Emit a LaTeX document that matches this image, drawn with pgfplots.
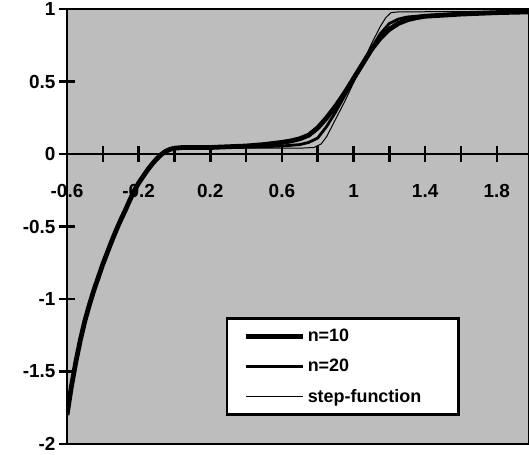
\documentclass[border=0pt]{standalone}
\usepackage{fontspec}
\setmainfont{Liberation Sans}
\usepackage{pgfplots}
\pgfplotsset{compat=1.18}

\pgfplotstableread{
x y
-0.6 -1.80
-0.575 -1.60
-0.55 -1.43
-0.525 -1.28
-0.5 -1.15
-0.475 -1.04
-0.45 -0.94
-0.425 -0.85
-0.4 -0.76
-0.375 -0.68
-0.35 -0.60
-0.325 -0.525
-0.3 -0.455
-0.275 -0.39
-0.25 -0.32
-0.225 -0.255
-0.2 -0.20
-0.175 -0.155
-0.15 -0.11
-0.125 -0.07
-0.1 -0.035
-0.075 -0.005
-0.05 0.018
-0.025 0.032
0 0.04
0.05 0.045
0.1 0.045
0.2 0.045
0.3 0.05
0.4 0.055
0.5 0.065
0.6 0.08
0.65 0.09
0.7 0.105
0.75 0.13
0.8 0.18
0.85 0.25
0.9 0.33
0.95 0.42
1.0 0.52
1.05 0.62
1.1 0.72
1.15 0.80
1.2 0.86
1.25 0.90
1.3 0.925
1.35 0.94
1.4 0.95
1.6 0.965
1.8 0.975
1.98 0.98
}\nten

\pgfplotstableread{
x y
-0.6 -1.80
-0.575 -1.60
-0.55 -1.43
-0.525 -1.28
-0.5 -1.15
-0.475 -1.04
-0.45 -0.94
-0.425 -0.85
-0.4 -0.76
-0.375 -0.68
-0.35 -0.60
-0.325 -0.525
-0.3 -0.455
-0.275 -0.39
-0.25 -0.32
-0.225 -0.255
-0.2 -0.20
-0.175 -0.155
-0.15 -0.11
-0.125 -0.07
-0.1 -0.035
-0.075 -0.005
-0.05 0.018
-0.025 0.032
0 0.04
0.05 0.045
0.1 0.045
0.3 0.045
0.5 0.05
0.6 0.055
0.7 0.065
0.75 0.08
0.8 0.11
0.85 0.19
0.9 0.29
0.95 0.40
1.0 0.51
1.05 0.62
1.1 0.73
1.15 0.83
1.2 0.90
1.25 0.93
1.3 0.945
1.4 0.955
1.6 0.965
1.98 0.98
}\ntwenty

\pgfplotstableread{
x y
-0.6 -1.80
-0.575 -1.60
-0.55 -1.43
-0.525 -1.28
-0.5 -1.15
-0.475 -1.04
-0.45 -0.94
-0.425 -0.85
-0.4 -0.76
-0.375 -0.68
-0.35 -0.60
-0.325 -0.525
-0.3 -0.455
-0.275 -0.39
-0.25 -0.32
-0.225 -0.255
-0.2 -0.20
-0.175 -0.155
-0.15 -0.11
-0.125 -0.07
-0.1 -0.035
-0.075 -0.005
-0.05 0.018
-0.025 0.032
0 0.04
0.1 0.04
0.5 0.04
0.7 0.04
0.78 0.045
0.82 0.07
0.85 0.12
0.9 0.24
0.95 0.36
1.0 0.49
1.05 0.62
1.1 0.76
1.15 0.88
1.18 0.94
1.21 0.975
1.25 0.98
1.98 0.985
}\nstep

\begin{document}
\begin{tikzpicture}
\begin{axis}[
    scale only axis,
    width=462bp, height=435bp,
    xmin=-0.6, xmax=1.98, ymin=-2, ymax=1,
    axis x line=middle, axis y line=left,
    axis line style={-, line width=2.8bp},
    hide obscured x ticks=false, hide obscured y ticks=false,
    xtick={-0.6,-0.2,0.2,0.6,1,1.4,1.8},
    minor xtick={-0.4,0,0.4,0.8,1.2,1.6},
    ytick={-2,-1.5,-1,-0.5,0,0.5,1},
    tick align=center,
    major tick length=16bp, minor tick length=16bp,
    tick style={black, line width=2.5bp},
    ticklabel style={font=\bfseries\fontsize{19}{19}\selectfont},
    /pgf/number format/assume math mode=true,
    xticklabel style={yshift=-19bp},
    axis background/.style={fill=black!26, draw=black, line width=2.8bp},
    legend style={at={(0.85,0.064)}, anchor=south east, draw=black,
        line width=2.8bp, fill=white,
        font=\bfseries\fontsize{18}{18}\selectfont,
        inner xsep=17bp, inner ysep=9bp, row sep=12bp},
    legend cell align=left,
    legend image code/.code={\draw[#1] (0bp,0bp) -- (57bp,0bp);},
]
\addplot[black, line width=4.8bp, line join=round] table[x=x, y=y] {\nten};
\addplot[black, line width=2.8bp, line join=round] table[x=x, y=y] {\ntwenty};
\addplot[black, line width=1bp] table[x=x, y=y] {\nstep};
\legend{n=10, n=20, step-function\hspace*{18bp}}
\coordinate (sw) at (rel axis cs:0,0);
\coordinate (ne) at (rel axis cs:1,1);
\end{axis}
\pgfresetboundingbox
\useasboundingbox ([xshift=-67bp, yshift=-11bp]sw) rectangle ([yshift=9bp]ne);
\end{tikzpicture}
\end{document}
